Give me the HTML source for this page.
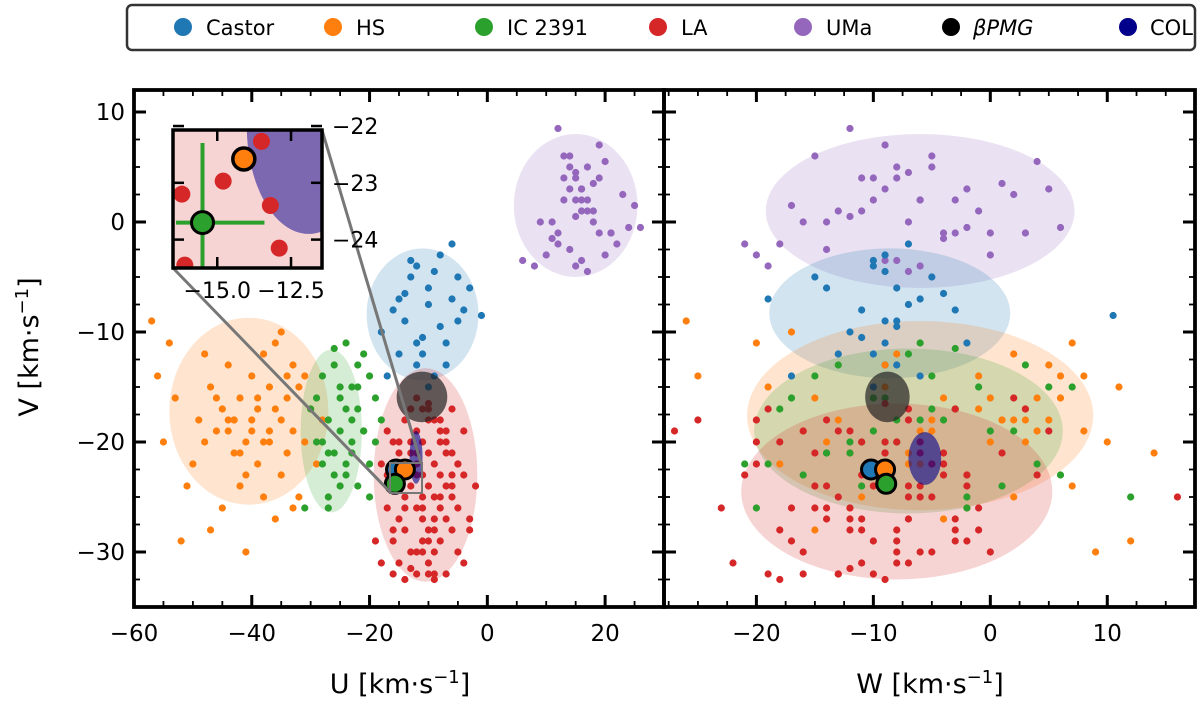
<!DOCTYPE html>
<html><head><meta charset="utf-8">
<style>
html,body{margin:0;padding:0;background:#fff;width:1200px;height:701px;overflow:hidden;}
svg{display:block;font-family:"DejaVu Sans","Liberation Sans",sans-serif;}
</style></head>
<body>
<svg id="chart" width="1200" height="701" viewBox="0 0 1200 701">
  <g>
    <rect x="127" y="5" width="1068" height="45" rx="5" fill="#fff" stroke="#333" stroke-width="2.5"/>
    <g font-size="21" fill="#000">
      <circle cx="183" cy="27" r="9" fill="#1f77b4"/>
      <text x="206" y="35">Castor</text>
      <circle cx="333" cy="27" r="9" fill="#ff7f0e"/>
      <text x="356" y="35">HS</text>
      <circle cx="484" cy="27" r="9" fill="#2ca02c"/>
      <text x="507" y="35">IC 2391</text>
      <circle cx="658" cy="27" r="9" fill="#d62728"/>
      <text x="681" y="35">LA</text>
      <circle cx="803" cy="27" r="9" fill="#9467bd"/>
      <text x="826" y="35">UMa</text>
      <circle cx="951" cy="27" r="9" fill="#000"/>
      <text x="973" y="35" font-style="italic">βPMG</text>
      <circle cx="1128" cy="27" r="9" fill="#00008b"/>
      <text x="1150" y="35">COL</text>
    </g>
  </g>
  <g id="plots"></g>
  <text x="400" y="693" font-size="27" text-anchor="middle">U [km·s<tspan dy="-10" font-size="18">−1</tspan><tspan dy="10">]</tspan></text>
  <text x="930" y="693" font-size="27" text-anchor="middle">W [km·s<tspan dy="-10" font-size="18">−1</tspan><tspan dy="10">]</tspan></text>
  <text transform="translate(38,347) rotate(-90)" font-size="27" text-anchor="middle">V [km·s<tspan dy="-10" font-size="18">−1</tspan><tspan dy="10">]</tspan></text>
</svg>
<script>
const umaU=[12,14,15,16,17,13,18,11,19,20,15,16,14,13,17,18,12,10,22,21,16,15,14,9,8,24,25,23,17,16,19,13,12,18,20,15,14,16,17,11,6,26,21,19,15];
const umaV=[8.5,6,4,3,5,2,1,0,-1,-3,-4,2,3,4,1,0,-2,-3,-2,-1,3,2,5,0,-4,-0.5,1.5,2.5,-4.5,-3.5,4,6,-1,3.5,5.5,0.5,-2.5,1,2,-1.5,-3.5,-0.5,-1,7,4.5];
const umaW=[-12,-15,-8,-2,-5,-10,-13,-7,-4,0,-6,-3,-9,-11,-1,-14,-18,-20,-21,3,5,-6,-8,-16,-19,6,-17,2,-7,-9,-10,-5,-3,1,4,-12,-14,-11,-6,-4,-8,-2,0,-9,-7];
const casU=[-15,-13,-12,-10,-8,-6,-5,-16,-18,-14,-11,-9,-7,-4,-3,-12,-13,-10,-8,-14,-15,-11,-9,-7,-1,-17,-6,-12,-10,-5];
const casV=[-7,-5,-4,-6,-3,-2,-5,-8,-10,-9,-12,-14,-13,-8,-6,-11,-3.5,-7.5,-9.5,-6.5,-12,-10.5,-4.5,-11,-8.5,-14,-7,-13,-15,-9];
const casW=[-19,-15,-10,-8,-9,-7,-5,-11,-12,-9,-10,-6,-8,-3,-14,-9,-10,-7,-8,-4,-13,-11,-9,-2,10.5,-17,-6,-9,-10,-8];
const hsU=[-57,-56,-55,-53,-52,-50,-49,-48,-47,-46,-45,-45,-44,-43,-43,-42,-42,-41,-41,-40,-40,-39,-39,-38,-38,-37,-37,-36,-36,-35,-35,-34,-34,-33,-33,-32,-32,-31,-30,-29,-28,-46,-44,-42,-40,-38,-36,-34,-41,-39,-37,-43,-47,-51,-54,-35,-33,-31,-48,-44];
const hsV=[-9,-14,-20,-16,-29,-22,-18,-12,-15,-19,-17,-26,-13,-21,-18,-24,-16,-20,-30,-14,-19,-22,-17,-12,-25,-15,-20,-27,-11,-18,-23,-16,-21,-13,-19,-25,-15,-20,-17,-22,-18,-16,-19,-21,-18,-20,-17,-14,-23,-16,-19,-18,-28,-24,-11,-10,-26,-14,-20,-18];
const hsW=[-26,-25,3,-15,12,-18,-5,2,-9,8,-3,-12,5,-7,1,-10,6,-14,9,-1,-16,-6,3,-8,-11,11,0,-4,7,-13,-2,4,14,-9,-5,2,-19,10,-1,-7,1,-4,4,-12,5,-8,-3,6,-10,0,-6,3,-15,7,-20,-17,-2,8,-9,2];
const icU=[-30,-29,-28,-28,-27,-27,-26,-26,-25,-25,-24,-24,-23,-23,-22,-22,-21,-21,-20,-20,-19,-18,-27,-25,-23,-26,-24,-22,-28,-20,-29,-25,-23,-21,-26,-24,-31,-19,-22,-27];
const icV=[-17,-20,-14,-22,-18,-25,-13,-21,-16,-19,-11,-23,-15,-20,-17,-24,-12,-19,-14,-22,-16,-18,-26,-15,-21,-23,-17,-13,-20,-25,-16,-24,-18,-19,-11.5,-22,-26,-20,-15,-21];
const icW=[-18,-12,-5,-21,-8,-2,3,-14,-10,0,-6,-16,5,-9,-3,-11,-7,2,-15,4,-9,-4,-20,-1,-12,6,-5,-13,-8,12,-17,1,-6,-10,-3,-19,-2,-11,7,-14];
const laU=[-18,-17,-17,-16,-16,-16,-15,-15,-15,-14,-14,-14,-14,-13,-13,-13,-13,-12,-12,-12,-12,-12,-11,-11,-11,-11,-11,-10,-10,-10,-10,-10,-9,-9,-9,-9,-9,-8,-8,-8,-8,-7,-7,-7,-7,-6,-6,-6,-5,-5,-5,-4,-4,-3,-2,-19,-18,-16,-14,-12,-10,-8,-6,-4,-13,-11,-9,-7,-15,-17,-12,-10,-8,-6,-11,-9,-14,-16,-13,-5,-7,-11,-9,-12,-10,-8,-3,-15,-6,-10];
const laV=[-22,-26,-19,-24,-29,-20,-22,-27,-31,-18,-23,-25,-28,-17,-21,-24,-30,-16,-19,-22,-26,-32,-17,-20,-23,-27,-29,-16.5,-21,-24,-28,-31,-18,-22,-25,-30,-32.5,-19,-23,-26,-29,-20,-24,-27,-32,-21,-25,-28,-22,-26,-30,-23,-31,-27,-24,-29,-31,-32,-32.5,-30,-32,-18,-17,-19,-31.5,-26,-28,-21,-20,-23,-21,-18,-20,-24,-25,-27,-26,-28,-20,-22,-19,-30,-32,-23,-29,-25,-28,-21,-23,-17];
const laW=[-20,-15,-12,-10,-8,-18,-5,-3,-22,-14,-11,-7,-1,-19,-9,-6,-16,2,-13,-4,-17,-10,3,-8,-21,-12,-2,-9,-6,-15,-11,-7,-25,-4,-13,0,-18,5,-9,-14,-3,-20,-7,-11,-16,1,-5,-12,-10,-23,-6,4,-8,-14,-2,-17,-11,-19,-9,-5,-13,-7,-3,-27,-12,-1,-8,-15,-6,-10,-4,-20,-9,-14,16,-7,-12,-3,-11,-5,-16,-8,-13,-2,-10,-6,-18,-9,-4,-7];
const ellLeft={uma:[15,1.5,10.5,6.5],cas:[-11,-8.4,9.5,6],hs:[-40.5,-17.2,13.5,8.5],ic:[-26.5,-19,5.2,7.4],la:[-10.5,-23,8.8,9.7]};
const ellRight={uma:[-6,1,13.2,7],cas:[-8.6,-8.3,10.3,5.9],hs:[-6,-17.6,14.8,8.6],ic:[-7,-19,13.2,7.5],la:[-8,-24.5,13.3,8]};
const bpmgL=[-11.1,-15.9,4.3,2.3], colL=[-12.1,-21.4,1.1,2.4];
const bpmgR=[-8.8,-15.9,1.9,2.3], colR=[-5.6,-21.5,1.4,2.4];
const bigU=[-15.5,-14,-15.7], bigW=[-10.2,-9.0,-8.9], bigV=[-22.5,-22.5,-23.8];
const bigCol=['#1f77b4','#ff7f0e','#2ca02c'];
const uTicks=[-60,-40,-20,0,20], wTicks=[-20,-10,0,10], vTicks=[10,0,-10,-20,-30];
const uTickLabels=['−60','−40','−20','0','20'], wTickLabels=['−20','−10','0','10'], vTickLabels=['10','0','−10','−20','−30'];

const NS='http://www.w3.org/2000/svg';
const root=document.getElementById('plots');
function mk(tag,attrs,parent){const e=document.createElementNS(NS,tag);for(const k in attrs)e.setAttribute(k,attrs[k]);(parent||root).appendChild(e);return e;}
const Y0=90,Y1=607,VMIN=-35,VMAX=12;
function sy(v){return Y0+(VMAX-v)/(VMAX-VMIN)*(Y1-Y0);}
const panels=[
 {name:'left',x0:134,x1:664,min:-60,max:30,ticks:uTicks,labels:uTickLabels,minor:5,ell:ellLeft,xs:{uma:umaU,cas:casU,hs:hsU,ic:icU,la:laU},b:bpmgL,c:colL,big:bigU},
 {name:'right',x0:664,x1:1195,min:-27.9,max:17.5,ticks:wTicks,labels:wTickLabels,minor:2.5,ell:ellRight,xs:{uma:umaW,cas:casW,hs:hsW,ic:icW,la:laW},b:bpmgR,c:colR,big:bigW}
];
const colors={uma:'#9467bd',cas:'#1f77b4',hs:'#ff7f0e',ic:'#2ca02c',la:'#d62728'};
const vs={uma:umaV,cas:casV,hs:hsV,ic:icV,la:laV};
const order=['uma','cas','hs','ic','la'];
panels.forEach(p=>{
  const sx=x=>p.x0+(x-p.min)/(p.max-p.min)*(p.x1-p.x0);
  const g=mk('g',{});
  
  
  const cp=mk('clipPath',{id:'cp-'+p.name},g);
  mk('rect',{x:p.x0,y:Y0,width:p.x1-p.x0,height:Y1-Y0},cp);
  const pg=mk('g',{'clip-path':'url(#cp-'+p.name+')'},g);
  order.forEach(k=>{
    const e=p.ell[k];
    const el=mk('ellipse',{cx:sx(e[0]),cy:sy(e[1]),rx:Math.abs(sx(e[0]+e[2])-sx(e[0])),ry:Math.abs(sy(e[1]+e[3])-sy(e[1])),fill:colors[k],'fill-opacity':0.2},pg);
    
    
  });
  order.forEach(k=>{
    const xs=p.xs[k],ys=vs[k];
    for(let i=0;i<Math.min(xs.length,ys.length);i++){
      const c=mk('circle',{cx:sx(xs[i]),cy:sy(ys[i]),r:3.6,fill:colors[k]},pg);
      
      
    }
  });
  const b=p.b;
  const be=mk('ellipse',{cx:sx(b[0]),cy:sy(b[1]),rx:sx(b[0]+b[2])-sx(b[0]),ry:sy(b[1]-b[3])-sy(b[1]),fill:'#222','fill-opacity':0.7},pg);
  
  
  const c=p.c;
  const ce=mk('ellipse',{cx:sx(c[0]),cy:sy(c[1]),rx:sx(c[0]+c[2])-sx(c[0]),ry:sy(c[1]-c[3])-sy(c[1]),fill:'#00008b','fill-opacity':0.6},pg);
  
  
  for(let i=0;i<3;i++){
    const m=mk('circle',{cx:sx(p.big[i]),cy:sy(bigV[i]),r:9.5,fill:bigCol[i],stroke:'#000','stroke-width':3},pg);
    
    
  }
  for(let t=Math.ceil(p.min/p.minor)*p.minor;t<=p.max;t+=p.minor){
    const x=sx(t);const major=p.ticks.includes(t);const L=major?12:6;
    mk('line',{x1:x,y1:Y1,x2:x,y2:Y1-L,stroke:'#000','stroke-width':major?3:1.8},g);
    mk('line',{x1:x,y1:Y0,x2:x,y2:Y0+L,stroke:'#000','stroke-width':major?3:1.8},g);
  }
  p.ticks.forEach((t,i)=>{
    const tl=mk('text',{x:sx(t),y:Y1+34,'font-size':23,'text-anchor':'middle'},g);
    tl.textContent=p.labels[i];
    
    
  });
  for(let v=-35;v<=12;v+=2.5){
    const y=sy(v);const major=vTicks.includes(v);const L=major?12:6;
    mk('line',{x1:p.x0,y1:y,x2:p.x0+L,y2:y,stroke:'#000','stroke-width':major?3:1.8},g);
    mk('line',{x1:p.x1,y1:y,x2:p.x1-L,y2:y,stroke:'#000','stroke-width':major?3:1.8},g);
  }
  if(p.name==='left'){
    vTicks.forEach((v,i)=>{
      const tl=mk('text',{x:p.x0-9,y:sy(v)+8,'font-size':23,'text-anchor':'end'},g);
      tl.textContent=vTickLabels[i];
      
      
    });
  }
  mk('rect',{x:p.x0,y:Y0,width:p.x1-p.x0,height:Y1-Y0,fill:'none',stroke:'#000','stroke-width':3.8},g);
});
const insU=[-13.5,-14.8,-16.2,-13.2,-12.9,-16.1];
const insV=[-22.27,-22.97,-23.2,-23.4,-24.15,-24.45];
const insTicksX=[-15.0,-12.5], insTicksY=[-22,-23,-24];
const insLabX=['−15.0','−12.5'], insLabY=['−22','−23','−24'];
(function(){
  const X0=173,X1=322,IY0=130,IY1=268,UMIN=-16.5,UMAX=-11.45,VTOP=-22.07,VBOT=-24.5;
  const ix=u=>X0+(u-UMIN)/(UMAX-UMIN)*(X1-X0);
  const iy=v=>IY0+(VTOP-v)/(VTOP-VBOT)*(IY1-IY0);
  const g=mk('g',{});
  
  
  mk('rect',{x:390,y:463,width:32,height:30,fill:'none',stroke:'#777','stroke-width':2},g);
  mk('line',{x1:173,y1:268,x2:391,y2:493,stroke:'#777','stroke-width':3},g);
  mk('line',{x1:322,y1:130,x2:421,y2:463,stroke:'#777','stroke-width':3},g);
  const cp=mk('clipPath',{id:'cp-inset'},g);
  mk('rect',{x:X0,y:IY0,width:X1-X0,height:IY1-IY0},cp);
  const ig=mk('g',{'clip-path':'url(#cp-inset)'},g);
  mk('rect',{x:X0,y:IY0,width:X1-X0,height:IY1-IY0,fill:'#f7d4d4'},ig);
  const col=mk('ellipse',{cx:ix(-11.9),cy:iy(-22.0),rx:ix(-11.9)-ix(-14.0),ry:iy(-23.9)-iy(-22.0),fill:'#7b68b0'},ig);
  
  
  for(let i=0;i<insU.length;i++){
    const c=mk('circle',{cx:ix(insU[i]),cy:iy(insV[i]),r:8.5,fill:'#d62728'},ig);
    
    
  }
  mk('line',{x1:ix(-16.4),y1:iy(-23.7),x2:ix(-13.4),y2:iy(-23.7),stroke:'#2ca02c','stroke-width':4},ig);
  mk('line',{x1:ix(-15.5),y1:iy(-22.3),x2:ix(-15.5),y2:iy(-24.5),stroke:'#2ca02c','stroke-width':4},ig);
  const gm=mk('circle',{cx:ix(-15.5),cy:iy(-23.7),r:11,fill:'#2ca02c',stroke:'#000','stroke-width':3},ig);
  
  
  const om=mk('circle',{cx:ix(-14.1),cy:iy(-22.58),r:11,fill:'#ff7f0e',stroke:'#000','stroke-width':3.5},ig);
  
  
  insTicksX.forEach((t,i)=>{
    mk('line',{x1:ix(t),y1:IY1,x2:ix(t),y2:IY1-11,stroke:'#000','stroke-width':2.5},g);
    mk('line',{x1:ix(t),y1:IY0,x2:ix(t),y2:IY0+11,stroke:'#000','stroke-width':2.5},g);
    const tl=mk('text',{x:ix(t),y:IY1+30,'font-size':22,'text-anchor':'middle'},g);
    tl.textContent=insLabX[i];
    
    
  });
  insTicksY.forEach((t,i)=>{
    mk('line',{x1:X0,y1:iy(t),x2:X0+11,y2:iy(t),stroke:'#000','stroke-width':2.5},g);
    mk('line',{x1:X1,y1:iy(t),x2:X1-11,y2:iy(t),stroke:'#000','stroke-width':2.5},g);
    const tl=mk('text',{x:X1+10,y:iy(t)+8,'font-size':22},g);
    tl.textContent=insLabY[i];
    
    
  });
  mk('rect',{x:X0,y:IY0,width:X1-X0,height:IY1-IY0,fill:'none',stroke:'#000','stroke-width':3.5},g);
})();
</script>
</body></html>
